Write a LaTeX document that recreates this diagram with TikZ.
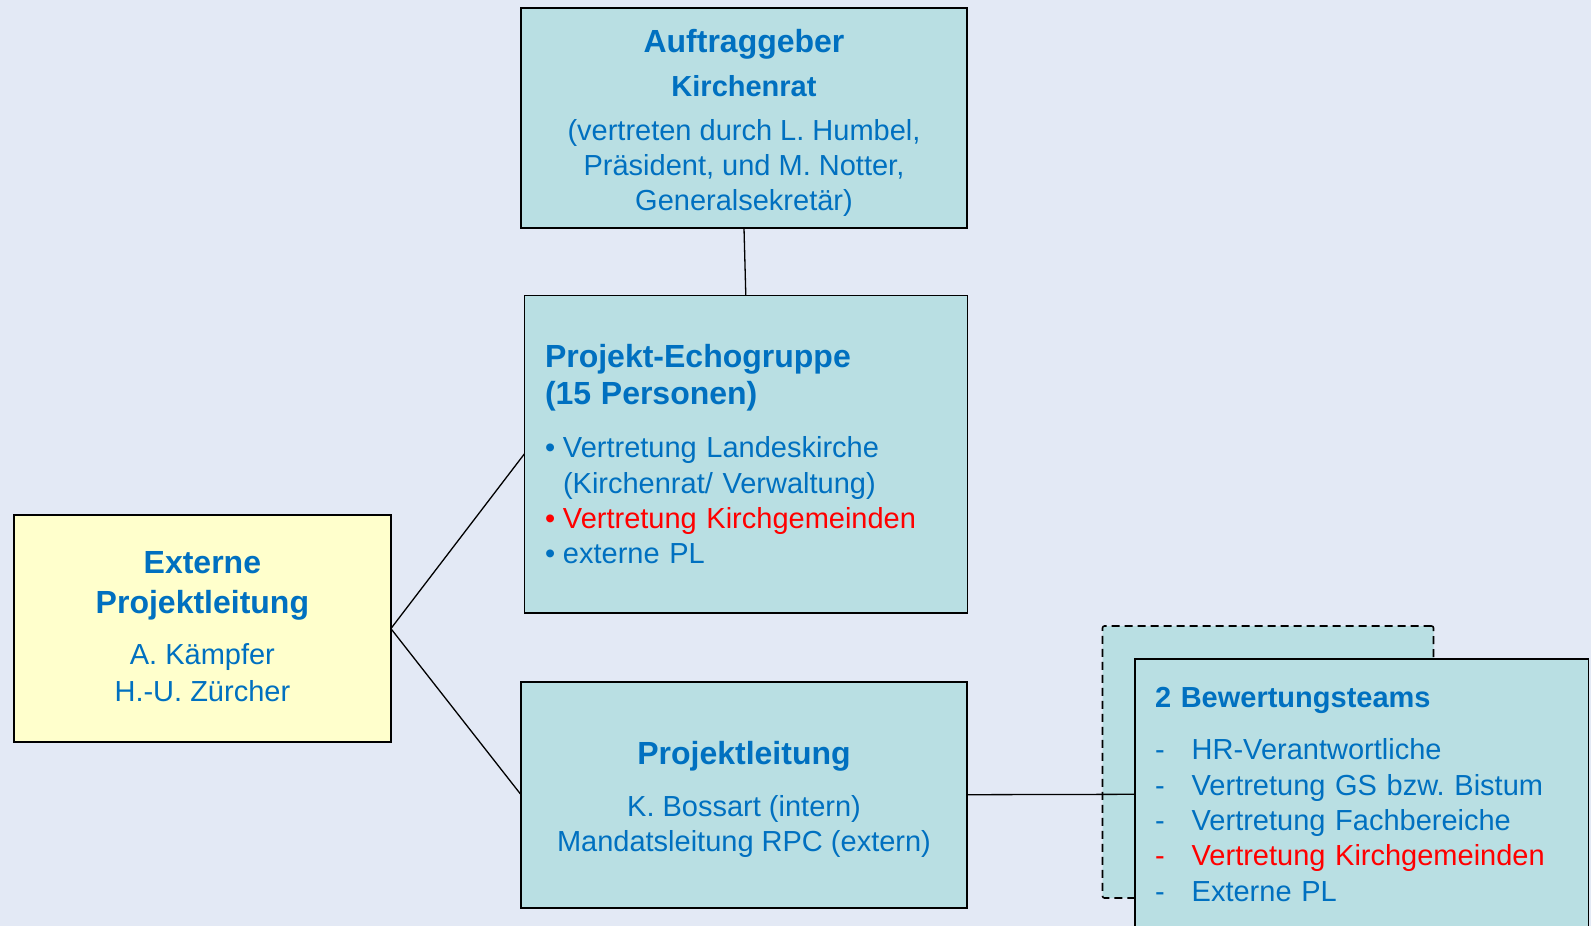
\documentclass[tikz,border=0pt]{standalone}
\usepackage{fontspec}
\setmainfont{Liberation Sans}
\frenchspacing
\definecolor{bgblue}{RGB}{227,233,245}
\definecolor{boxteal}{RGB}{185,223,227}
\definecolor{boxyellow}{RGB}{255,255,204}
\definecolor{textblue}{RGB}{0,112,192}
\newcommand{\boxtitle}[1]{{\bfseries\fontsize{32}{35.3}\selectfont #1}}
\newcommand{\bul}{\makebox[18pt][l]{\textbullet}}
\newcommand{\dsh}{\makebox[36.7pt][l]{-}}

\begin{document}
\begin{tikzpicture}[x=1pt,y=-1pt,
	box/.style={draw=black, line width=1.6pt, fill=boxteal, text=textblue, outer sep=0pt, font=\fontsize{29}{35.3}\selectfont},
	ghostbox/.style={box, dash pattern=on 8pt off 5pt, rounded corners=2pt},
	link/.style={line width=1.3pt}]
			%%%%% START %%%%%
			
			\useasboundingbox[fill=bgblue] (0,0) rectangle (1591,926);
			
			\node[box, minimum width=446pt, minimum height=220pt, align=center] (auftrag) at (744,118)
				{\rule{0pt}{33.5pt}\boxtitle{Auftraggeber}\\[9pt]\textbf{Kirchenrat}\\[8pt](vertreten durch L. Humbel,\\Präsident, und M. Notter,\\Generalsekretär)};
			
			\node[box, minimum width=443pt, minimum height=317.4pt, text width=401.6pt, inner xsep=20.7pt, align=left] (echo) at (745.8,454)
				{\boxtitle{Projekt-Echogruppe}\\[2.4pt]
				\boxtitle{(15 Personen)}\\[17.5pt]
				\bul Vertretung Landeskirche\\
				\hspace*{18pt}(Kirchenrat/ Verwaltung)\\
				{\color{red}\bul Vertretung Kirchgemeinden}\\
				\bul externe PL};
			
			\node[box, fill=boxyellow, minimum width=377pt, minimum height=227pt, align=center] (extern) at (202.4,628.6)
				{\boxtitle{Externe}\\[5.4pt]\boxtitle{Projektleitung}\\[15pt]A. Kämpfer\\[1.5pt]\rule[-5pt]{0pt}{5pt}H.-U. Zürcher};
			
			\node[box, minimum width=446pt, minimum height=226pt, align=center] (projekt) at (744,794.7)
				{\rule{0pt}{33.5pt}\boxtitle{Projektleitung}\\[16.4pt]K. Bossart (intern)\\Mandatsleitung RPC (extern)};
			
			\node[ghostbox, minimum width=331pt, minimum height=272pt] (backteam) at (1268,762) {};
			
			\node[box, minimum width=453.5pt, minimum height=271.2pt, text width=413.5pt, inner xsep=20pt, align=left] (team) at (1361.75,794.3)
				{\textbf{2 Bewertungsteams}\\[17pt]
				\dsh HR-Verantwortliche\\
				\dsh Vertretung GS bzw. Bistum\\
				\dsh Vertretung Fachbereiche\\
				{\color{red}\dsh Vertretung Kirchgemeinden}\\
				\dsh Externe PL};
			
			\draw[link] (auftrag.south) -- (echo.north);
			\draw[link] (extern.east) -- (echo.west);
			\draw[link] (extern.east) -- (projekt.west);
			\draw[link] (projekt.east) -- (team.west);
			
			%%%%% END %%%%%
\end{tikzpicture}
\end{document}
